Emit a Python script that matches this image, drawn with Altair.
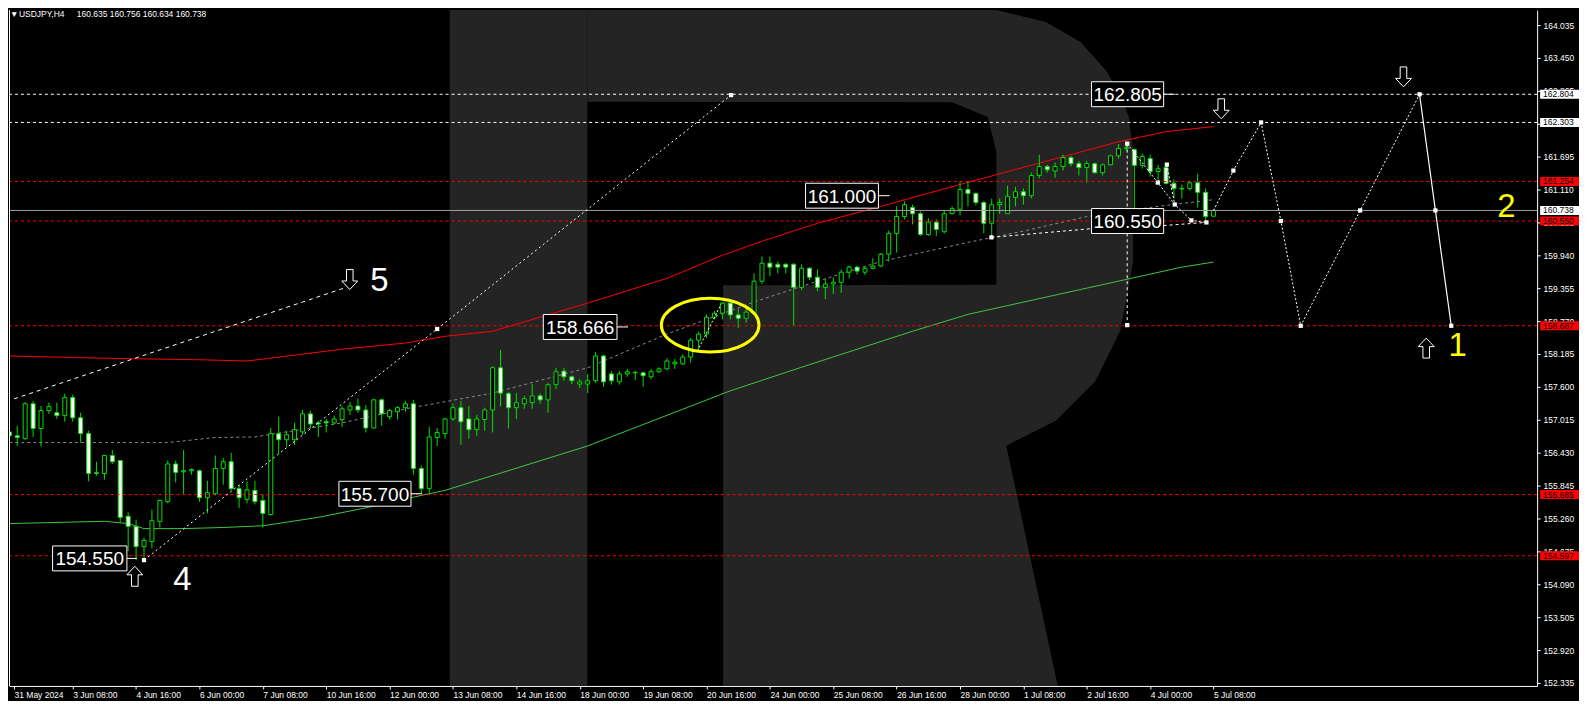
import altair as alt
import pandas as pd

# ---------------- candles (USDJPY H4) ----------------
opens = [156.80,156.73,156.68,157.30,156.86,157.18,157.14,157.09,157.41,157.05,
         156.77,156.06,156.06,156.38,156.29,155.30,155.12,154.76,154.85,155.21,
         155.56,156.23,156.09,156.11,156.11,155.63,155.70,156.15,156.27,155.79,
         155.60,155.76,155.58,155.33,156.77,156.66,156.66,156.80,157.12,156.96,
         156.98,156.96,157.02,157.19,157.26,157.19,156.87,157.37,157.07,157.16,
         157.23,157.30,156.15,155.79,156.70,156.77,157.03,157.23,157.03,156.84,
         157.02,157.19,157.94,157.48,157.23,157.30,157.32,157.44,157.37,157.64,
         157.88,157.78,157.65,157.65,157.71,158.15,157.83,157.69,157.83,157.85,
         157.85,157.78,157.87,157.92,158.01,158.01,158.13,158.43,158.54,158.84,
         158.91,159.09,158.88,158.82,158.91,159.48,159.80,159.78,159.78,159.78,
         159.37,159.71,159.55,159.37,159.43,159.46,159.64,159.73,159.64,159.71,
         159.75,159.96,160.33,160.63,160.79,160.68,160.31,160.53,160.36,160.68,
         160.76,161.11,161.04,160.88,160.51,160.84,160.68,160.97,161.07,161.00,
         161.36,161.52,161.44,161.52,161.68,161.57,161.50,161.57,161.41,161.55,
         161.71,161.84,161.82,161.54,161.66,161.43,161.50,161.22,161.13,161.13,
         161.23,161.06,160.635]
highs = [157.02,156.91,157.33,157.35,157.26,157.32,157.32,157.48,157.46,157.14,
         156.82,156.27,156.39,156.48,156.29,155.37,155.24,154.92,155.42,155.60,
         156.29,156.29,156.48,156.15,156.13,155.93,156.38,156.34,156.43,155.85,
         155.92,155.93,155.69,156.87,157.07,156.82,156.96,157.19,157.18,157.00,
         157.03,157.09,157.26,157.33,157.39,157.28,157.39,157.39,157.21,157.26,
         157.35,157.37,156.20,156.89,156.87,157.05,157.30,157.35,157.26,157.10,
         157.23,157.97,158.26,157.51,157.49,157.44,157.65,157.48,157.67,157.94,
         157.94,157.80,157.74,157.83,158.22,158.17,157.88,157.88,157.92,157.88,
         157.87,157.92,157.95,158.11,158.10,158.18,158.47,158.58,158.89,158.95,
         159.11,159.11,159.00,159.04,159.62,159.92,159.92,159.83,159.80,159.80,
         159.78,159.73,159.69,159.52,159.55,159.69,159.76,159.75,159.75,159.89,
         159.98,160.38,160.81,160.90,160.84,160.72,160.60,160.58,160.74,160.81,
         161.25,161.25,161.06,160.90,160.95,160.95,161.18,161.16,161.13,161.41,
         161.73,161.55,161.59,161.73,161.71,161.62,161.62,161.59,161.57,161.73,
         161.92,161.96,161.84,161.75,161.73,161.55,161.57,161.29,161.20,161.27,
         161.39,161.13,160.756]
lows = [156.59,156.55,156.66,156.71,156.54,157.12,157.03,156.98,156.98,156.61,
        155.92,156.02,155.95,156.23,155.19,154.68,154.52,154.50,154.73,155.10,
        155.53,155.90,155.69,156.04,155.56,155.35,155.67,155.86,155.76,155.45,
        155.53,155.51,155.10,155.31,156.41,156.54,156.57,156.75,156.86,156.71,
        156.79,156.93,156.89,157.10,157.14,156.79,156.86,156.91,157.02,157.02,
        157.16,156.04,155.69,155.72,156.55,156.68,157.00,156.57,156.68,156.73,
        156.82,156.79,157.25,156.86,157.03,157.21,157.21,157.30,157.14,157.56,
        157.71,157.65,157.58,157.49,157.67,157.60,157.64,157.64,157.78,157.72,
        157.60,157.74,157.85,157.90,157.92,157.99,158.03,158.24,158.47,158.80,
        158.80,158.80,158.65,158.74,158.89,159.43,159.57,159.62,159.62,158.70,
        159.32,159.50,159.30,159.16,159.25,159.27,159.53,159.60,159.59,159.69,
        159.73,159.83,159.99,160.58,160.49,160.29,160.29,160.28,160.33,160.67,
        160.65,160.81,160.83,160.33,160.24,160.68,160.68,160.81,160.84,160.95,
        161.31,161.41,161.32,161.45,161.52,161.36,161.23,161.39,161.36,161.54,
        161.66,161.80,160.76,161.48,161.34,161.20,161.20,160.95,160.95,161.09,
        160.79,160.51,160.634]
closes = [156.73,156.70,157.30,156.86,157.18,157.25,157.09,157.41,157.05,156.77,
          156.06,156.08,156.38,156.27,155.28,155.12,154.76,154.87,155.22,155.58,
          156.23,156.08,156.11,156.13,155.63,155.72,156.15,156.27,155.79,155.63,
          155.77,155.56,155.35,156.77,156.66,156.75,156.84,157.12,156.94,156.94,
          156.96,157.03,157.21,157.26,157.19,156.87,157.37,157.12,157.18,157.23,
          157.30,156.15,155.79,156.71,156.79,157.03,157.23,156.98,156.84,157.03,
          157.19,157.94,157.49,157.23,157.32,157.39,157.44,157.37,157.64,157.87,
          157.78,157.71,157.69,157.71,158.15,157.69,157.71,157.83,157.87,157.86,
          157.80,157.87,157.92,158.06,158.04,158.13,158.43,158.54,158.84,158.91,
          159.09,158.88,158.82,158.93,159.48,159.80,159.73,159.73,159.73,159.37,
          159.71,159.55,159.37,159.43,159.46,159.64,159.73,159.66,159.71,159.75,
          159.96,160.33,160.63,160.84,160.68,160.31,160.53,160.40,160.68,160.77,
          161.11,161.04,160.88,160.51,160.84,160.88,160.99,161.07,161.00,161.36,
          161.52,161.46,161.52,161.68,161.57,161.50,161.57,161.41,161.55,161.71,
          161.84,161.86,161.54,161.70,161.43,161.48,161.22,161.13,161.12,161.23,
          161.06,160.63,160.738]

# ---------------- envelope lines ----------------
red_i = [0, 12, 25, 30, 42, 50, 55, 61, 73, 83, 90, 95, 102, 110, 120, 140, 146, 152]
red_p = [158.15, 158.11, 158.08, 158.06, 158.27, 158.38, 158.50, 158.59, 159.09, 159.53,
         159.94, 160.19, 160.51, 160.81, 161.20, 161.96, 162.14, 162.23]
grn_i = [0, 12, 15, 17, 22, 27, 32, 39, 45, 52, 55, 73, 91, 100, 114, 121, 148, 152]
grn_p = [155.17, 155.21, 155.17, 155.08, 155.08, 155.10, 155.13, 155.28, 155.45, 155.67,
         155.76, 156.55, 157.53, 157.95, 158.59, 158.89, 159.73, 159.82]
mid_i = [0, 20, 26, 31, 42, 50, 61, 73, 83, 94, 102, 110, 121, 128, 136, 145, 152]
mid_p = [156.61, 156.61, 156.70, 156.71, 156.96, 157.21, 157.49, 157.94, 158.54, 159.11,
         159.48, 159.83, 160.17, 160.37, 160.63, 160.81, 160.93]

# ---------------- levels ----------------
white_levels = [162.804, 162.303]
red_levels = [161.254, 160.550, 158.687, 155.685, 154.597]
current_price = 160.738

ytick_vals = [164.035, 163.450, 162.865, 162.280, 161.695, 161.110, 160.525, 159.940,
              159.355, 158.770, 158.185, 157.600, 157.015, 156.430, 155.845, 155.260,
              154.675, 154.090, 153.505, 152.920, 152.335]
xtick_idx = [0.6, 8, 16, 24, 32, 40, 48, 56, 64, 72, 80, 88, 96, 104, 112, 120, 128, 136, 144, 152]
xtick_labels = ['31 May 2024', '3 Jun 08:00', '4 Jun 16:00', '6 Jun 00:00', '7 Jun 08:00',
                '10 Jun 16:00', '12 Jun 00:00', '13 Jun 08:00', '14 Jun 16:00', '18 Jun 00:00',
                '19 Jun 08:00', '20 Jun 16:00', '24 Jun 00:00', '25 Jun 08:00', '26 Jun 16:00',
                '28 Jun 00:00', '1 Jul 08:00', '2 Jul 16:00', '4 Jul 00:00', '5 Jul 08:00']

# axis price boxes
tag_prices = [162.804, 162.303, 161.254, 160.738, 160.550, 158.687, 155.685, 154.597]
tag_bg = ['#ffffff', '#ffffff', '#ff0000', '#ffffff', '#ff0000', '#ff0000', '#ff0000', '#ff0000']

# big price labels on chart
big_text = ['154.550', '155.700', '158.666', '161.000', '160.550', '162.805']
big_price = [154.550, 155.700, 158.666, 161.000, 160.550, 162.805]
big_i0 = [5.46, 41.6, 67.4, 100.5, 136.6, 136.6]
big_i1 = [14.84, 50.7, 76.7, 109.7, 145.7, 145.7]
big_ptr = [16.09, 52.1, 78.1, 111.1, 145.7, 147.1]

# wave / projection lines
wave_dash_i = [0.6, 42.2]
wave_dash_p = [157.387, 159.355]
wave4_i = [17.0, 54.0, 91.1]
wave4_p = [154.52, 158.63, 162.79]
ell_seg_i = [86.84, 89.84]
ell_seg_p = [158.238, 159.07]
base_i = [123.96, 141.1]
base_p = [160.259, 160.47]
vert_i = [141.1, 141.1]
vert_p = [161.926, 158.699]
drop_i = [141.1, 144.96, 147.1, 149.2, 151.1]
drop_p = [161.926, 161.234, 160.844, 160.561, 160.525]
drop2_i = [146.1, 147.1]
drop2_p = [161.553, 160.844]
flat_i = [145.7, 151.1]
flat_p = [160.47, 160.525]
proj_i = [152, 154.5, 158, 160.5, 163, 170.5, 178]
proj_p = [160.738, 161.447, 162.303, 160.55, 158.687, 160.738, 162.804]
proj2_i = [178, 180, 182]
proj2_p = [162.804, 160.738, 158.687]
node_i = [17.0, 54.0, 91.1, 123.96, 141.1, 141.1, 144.96, 146.1, 147.1, 149.2, 151.1,
          154.5, 158, 160.5, 163, 170.5, 178, 180, 182]
node_p = [154.52, 158.63, 162.79, 160.259, 161.926, 158.699, 161.234, 161.553, 160.844,
          160.561, 160.525, 161.447, 162.303, 160.55, 158.687, 160.738, 162.804, 160.738, 158.687]

# arrows and wave numbers
up_i = [15.84, 178.84]
up_p = [154.232, 158.29]
dn_i = [42.97, 152.97, 175.97]
dn_p = [159.51, 162.546, 163.113]
num_text = ['4', '5', '1', '2']
num_i = [21.84, 46.7, 182.8, 188.96]
num_p = [154.18, 159.497, 158.34, 160.809]
num_col = ['#ffffff', '#ffffff', '#ffff00', '#ffff00']
ellipse_i = [88.46]
ellipse_p = [158.699]

# watermark "R" (index / price coordinates)
stem_i = [55.59, 72.96]
r_p = [164.301, 164.088, 163.734, 163.202, 162.670, 162.661, 162.40, 161.784, 159.834, 159.417,
       159.408, 158.593, 157.707, 156.998, 156.554, 152.282]
r_left = [72.96, 72.96, 72.96, 72.96, 72.96, 119.0, 123.5, 124.59, 124.59, 124.59,
          90.09, 90.09, 90.09, 90.09, 90.09, 90.09]
r_right = [124.59, 130.84, 135.21, 138.59, 140.59, 140.59, 141.3, 141.84, 141.84, 141.34,
           141.34, 140.21, 137.09, 132.09, 125.84, 132.34]

# ---------------- build ----------------
W, H = 1533, 678
XS = alt.Scale(domain=[0.5875, 192.2125], nice=False, zero=False)
YS = alt.Scale(domain=[152.282, 164.301], nice=False, zero=False)
GREEN = '#00e000'
FONT = 'Liberation Sans'

n = len(opens)
cdf = pd.DataFrame({'i': list(range(n)), 'o': opens, 'h': highs, 'l': lows, 'c': closes})
cdf['top'] = cdf[['o', 'c']].max(axis=1)
cdf['bot'] = cdf[['o', 'c']].min(axis=1)
cdf['fill'] = ['#ffffff' if c < o else '#000000' for o, c in zip(opens, closes)]

label_expr = '[' + ','.join("'" + s + "'" for s in xtick_labels) + '][round(datum.value/8)]'
x_axis = alt.Axis(values=xtick_idx, labelExpr=label_expr, labelAlign='left', labelColor='white',
                  labelFont=FONT, labelFontSize=8.5, tickColor='white', tickSize=3,
                  domainColor='white', grid=False, title=None, labelPadding=2,
                  labelOverlap=False, labelFlush=False, labelBound=False)
y_axis = alt.Axis(orient='right', values=ytick_vals, format='.3f', labelColor='white',
                  labelFont=FONT, labelFontSize=8.5, tickColor='white', tickSize=3,
                  domainColor='white', grid=False, title=None, labelPadding=3,
                  labelOverlap=False, labelFlush=False, labelBound=False)


def X(f='i'):
    return alt.X(f + ':Q', scale=XS, axis=x_axis)


def Y(f='p'):
    return alt.Y(f + ':Q', scale=YS, axis=y_axis)


def line_df(ii, pp):
    return pd.DataFrame({'i': ii, 'p': pp, 'k': list(range(len(ii)))})


layers = []

# watermark
stem = alt.Chart(pd.DataFrame({'a': [stem_i[0]], 'b': [stem_i[1]], 'y1': [152.282], 'y2': [164.301]})
                 ).mark_rect(color='#242424', clip=True).encode(
    x=X('a'), x2='b:Q', y=Y('y1'), y2='y2:Q')
rdf = pd.DataFrame({'p': r_p, 'xl': r_left, 'xr': r_right})
rpart = alt.Chart(rdf).mark_area(orient='horizontal', color='#242424', clip=True).encode(
    y=Y('p'), x=X('xl'), x2='xr:Q')
layers += [stem, rpart]

# envelope
for ii, pp, col, dash in [(red_i, red_p, '#ff0000', None), (grn_i, grn_p, '#3cc83c', None),
                          (mid_i, mid_p, '#8a8a8a', [3, 3])]:
    kw = dict(color=col, strokeWidth=1, clip=True)
    if dash:
        kw['strokeDash'] = dash
    layers.append(alt.Chart(line_df(ii, pp)).mark_line(**kw).encode(x=X(), y=Y(), order='k:Q'))

# candles
wicks = alt.Chart(cdf).mark_rule(color=GREEN, strokeWidth=1, clip=True).encode(
    x=X('i'), y=Y('l'), y2='h:Q')
bodies = alt.Chart(cdf).mark_bar(size=4, stroke=GREEN, strokeWidth=1, clip=True).encode(
    x=X('i'), y=Y('bot'), y2='top:Q', fill=alt.Fill('fill:N', scale=None))
layers += [wicks, bodies]

# level lines
lv = pd.DataFrame({'p': white_levels + red_levels,
                   'col': ['#ffffff'] * len(white_levels) + ['#ff0000'] * len(red_levels)})
layers.append(alt.Chart(lv).mark_rule(strokeDash=[3, 3], strokeWidth=1).encode(
    y=Y(), x=alt.value(0), x2=alt.value(W), color=alt.Color('col:N', scale=None)))
layers.append(alt.Chart(pd.DataFrame({'p': [current_price]})).mark_rule(color='#a0a0a0', strokeWidth=1).encode(
    y=Y(), x=alt.value(0), x2=alt.value(W)))

# wave lines
for ii, pp, dash in [(wave_dash_i, wave_dash_p, [4, 4]), (wave4_i, wave4_p, [2, 3]),
                     (ell_seg_i, ell_seg_p, [2, 2]), (base_i, base_p, [3, 3]),
                     (vert_i, vert_p, [3, 3]), (drop_i, drop_p, [2, 2]),
                     (drop2_i, drop2_p, [2, 2]), (flat_i, flat_p, [3, 3]),
                     (proj_i, proj_p, [2, 2])]:
    layers.append(alt.Chart(line_df(ii, pp)).mark_line(color='white', strokeDash=dash, strokeWidth=1,
                                                       clip=True).encode(x=X(), y=Y(), order='k:Q'))
layers.append(alt.Chart(line_df(proj2_i, proj2_p)).mark_line(color='white', strokeWidth=1.2, clip=True)
              .encode(x=X(), y=Y(), order='k:Q'))
layers.append(alt.Chart(pd.DataFrame({'i': node_i, 'p': node_p})).mark_point(
    shape='square', filled=True, color='white', size=18, opacity=1).encode(x=X(), y=Y()))

# big price labels
bdf = pd.DataFrame({'t': big_text, 'p': big_price, 'a': big_i0, 'b': big_i1, 'e': big_ptr})
bdf['y1'] = bdf['p'] - 0.2216
bdf['y2'] = bdf['p'] + 0.2216
bdf['m'] = (bdf['a'] + bdf['b']) / 2
layers.append(alt.Chart(bdf).mark_rule(color='white', strokeWidth=1).encode(x=X('b'), x2='e:Q', y=Y()))
layers.append(alt.Chart(bdf).mark_rect(fill='black', stroke='white', strokeWidth=1).encode(
    x=X('a'), x2='b:Q', y=Y('y1'), y2='y2:Q'))
layers.append(alt.Chart(bdf).mark_text(color='white', font=FONT, fontSize=19, align='center',
                                       baseline='middle', dy=1).encode(x=X('m'), y=Y(), text='t:N'))

# ellipse
ell_path = 'M-1,0A1,0.55,0,1,0,1,0A1,0.55,0,1,0,-1,0Z'
layers.append(alt.Chart(pd.DataFrame({'i': ellipse_i, 'p': ellipse_p})).mark_point(
    shape=ell_path, size=9604, filled=False, stroke='#ffff00', strokeWidth=3, opacity=1).encode(x=X(), y=Y()))

# arrows
up_path = 'M0,-1L0.8,-0.15L0.33,-0.15L0.33,1L-0.33,1L-0.33,-0.15L-0.8,-0.15Z'
dn_path = 'M0,1L0.8,0.15L0.33,0.15L0.33,-1L-0.33,-1L-0.33,0.15L-0.8,0.15Z'
layers.append(alt.Chart(pd.DataFrame({'i': up_i, 'p': up_p})).mark_point(
    shape=up_path, size=400, filled=True, fill='black', stroke='white', strokeWidth=1, opacity=1
).encode(x=X(), y=Y()))
layers.append(alt.Chart(pd.DataFrame({'i': dn_i, 'p': dn_p})).mark_point(
    shape=dn_path, size=400, filled=True, fill='black', stroke='white', strokeWidth=1, opacity=1
).encode(x=X(), y=Y()))

# wave numbers
layers.append(alt.Chart(pd.DataFrame({'t': num_text, 'i': num_i, 'p': num_p, 'c': num_col})).mark_text(
    font=FONT, fontSize=33, align='center', baseline='middle', dy=1).encode(
    x=X(), y=Y(), text='t:N', color=alt.Color('c:N', scale=None)))

# axis price tags
tdf = pd.DataFrame({'p': tag_prices, 'bg': tag_bg})
tdf['y1'] = tdf['p'] - 0.08
tdf['y2'] = tdf['p'] + 0.08
tdf['t'] = [f'{v:.3f}' for v in tag_prices]
layers.append(alt.Chart(tdf).mark_rect().encode(
    x=alt.value(W + 3), x2=alt.value(W + 42), y=Y('y1'), y2='y2:Q', fill=alt.Fill('bg:N', scale=None)))
layers.append(alt.Chart(tdf).mark_text(color='black', font=FONT, fontSize=8.5, align='left',
                                       baseline='middle').encode(
    x=alt.value(W + 6), y=Y(), text='t:N'))

# frame left line and header
layers.append(alt.Chart(pd.DataFrame({'v': [0]})).mark_rule(color='white', strokeWidth=1).encode(
    x=alt.value(0.5), y=alt.value(0), y2=alt.value(H)))
header_parts = ['\u25bc', 'USDJPY,H4', '160.635 160.756 160.634 160.738']
header_x = [1, 10, 68]
for t, xv in zip(header_parts, header_x):
    layers.append(alt.Chart(pd.DataFrame({'t': [t]})).mark_text(
        color='white', font=FONT, fontSize=8.5, align='left', baseline='top').encode(
        x=alt.value(xv), y=alt.value(0), text='t:N'))

chart = alt.layer(*layers).properties(width=W, height=H, padding=0, background='#000000') \
    .configure_view(strokeWidth=0)

chart.save("out.html", embed_options={"renderer": "svg", "actions": False})
